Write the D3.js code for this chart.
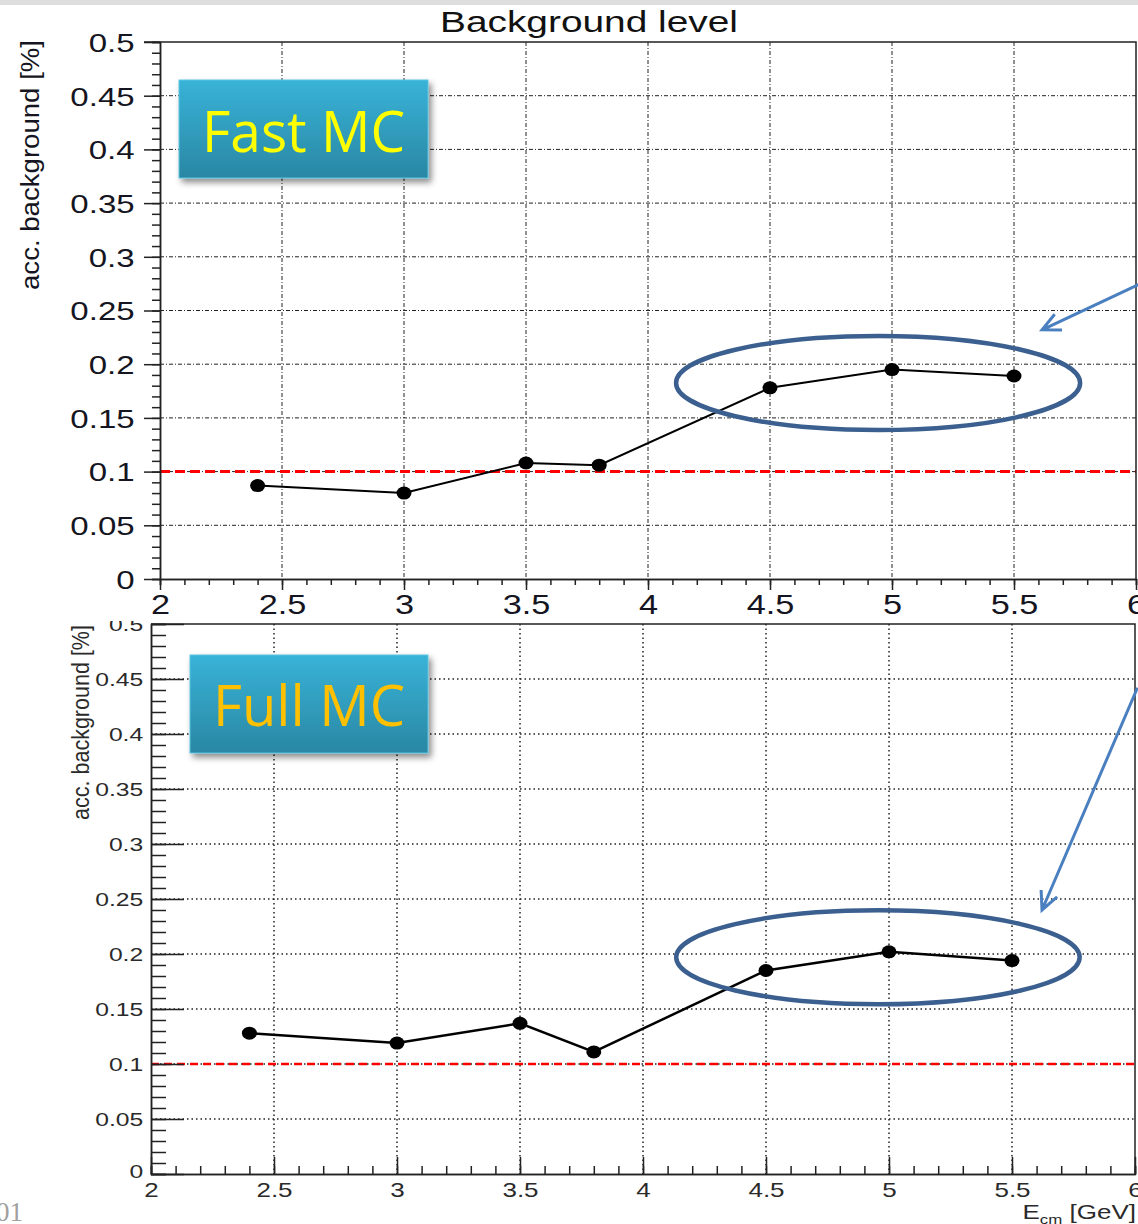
<!DOCTYPE html>
<html>
<head>
<meta charset="utf-8">
<script src="https://cdn.jsdelivr.net/npm/d3@7"></script>
<style>
  body { margin: 0; background: #fff; }
  svg { display: block; font-family: "Liberation Sans", Arial, sans-serif; }
</style>
</head>
<body>
<div class="chart"></div>
<script>
// values
const energies = [2.4, 3, 3.5, 3.8, 4.5, 5, 5.5]
const fastMC = [0.087, 0.080, 0.108, 0.106, 0.178, 0.195, 0.189]
const fullMC = [0.128, 0.119, 0.137, 0.111, 0.185, 0.202, 0.194]
const limit = 0.1

const xTicks = [2, 2.5, 3, 3.5, 4, 4.5, 5, 5.5, 6]
const xTickLabels = ["2", "2.5", "3", "3.5", "4", "4.5", "5", "5.5", "6"]
const yTicks = [0, 0.05, 0.1, 0.15, 0.2, 0.25, 0.3, 0.35, 0.4, 0.45, 0.5]
const yTickLabels = ["0", "0.05", "0.1", "0.15", "0.2", "0.25", "0.3", "0.35", "0.4", "0.45", "0.5"]
const xMinor = d3.range(20, 61).map(d => d / 10)
const yMinor = d3.range(0, 51).map(d => d / 100)

const panelNames = ["Fast MC", "Full MC"]
// annotation ellipses and arrows, in data units
const ringCenters = [[4.943, 0.1825], [4.955, 0.197]]
const ringRadii = [[0.828, 0.0438], [0.82, 0.0427]]
const arrowFrom = [[6.01, 0.274], [6.01, 0.442]]
const arrowTo = [[5.615, 0.232], [5.622, 0.24]]

const width = 1138
const height = 1224

const svg = d3.select(".chart")
  .append("svg")
  .attr("width", width)
  .attr("height", height)

const defs = svg.append("defs")
const grad = defs.append("linearGradient")
  .attr("id", "boxGrad")
  .attr("x1", 0).attr("y1", 0).attr("x2", 0).attr("y2", 1)
grad.append("stop").attr("offset", "0%").attr("stop-color", "#38b3d8")
grad.append("stop").attr("offset", "100%").attr("stop-color", "#2a87a3")
defs.append("filter")
  .attr("id", "shadow")
  .attr("x", "-10%").attr("y", "-10%").attr("width", "130%").attr("height", "140%")
  .append("feDropShadow")
  .attr("dx", 3).attr("dy", 4).attr("stdDeviation", 3)
  .attr("flood-color", "#000").attr("flood-opacity", 0.45)
defs.append("clipPath")
  .attr("id", "lowerClip")
  .append("rect")
  .attr("x", 0).attr("y", 621).attr("width", width).attr("height", height - 621)

// slide edge at the top
svg.append("rect")
  .attr("x", 0).attr("y", 0)
  .attr("width", width).attr("height", 5)
  .attr("fill", "#dedede")

svg.append("text")
  .attr("x", 589)
  .attr("y", 32)
  .attr("text-anchor", "middle")
  .attr("fill", "#111")
  .style("font-size", "29px")
  .attr("textLength", 298)
  .attr("lengthAdjust", "spacingAndGlyphs")
  .text("Background level")

svg.append("text")
  .attr("x", -4)
  .attr("y", 1221)
  .attr("fill", "#a0a0a0")
  .style("font-family", "'Liberation Serif', serif")
  .style("font-size", "27px")
  .text("01")

const panels = [
  {
    values: fastMC,
    name: panelNames[0],
    nameColor: "#ffff00",
    left: 160, top: 42, width: 976, height: 537,
    box: { x: 19, y: 38, w: 249, h: 98, textY: 110, textW: 203 },
    ticksInside: false,
    majorY: 16, minorY: 8, majorX: 11, minorX: 6,
    labelSize: 26, labelScale: 1.27, labelColor: "#151522",
    yLabelX: -20, xLabelY: 25,
    grid: "4,2,1,2", gridWidth: 1,
    lineWidth: 2, dot: [7.5, 6.5],
    axisTitle: { x: 30, top: 40, size: 26, len: 250 },
  },
  {
    values: fullMC,
    name: panelNames[1],
    nameColor: "#ffc000",
    left: 151, top: 624, width: 984, height: 550,
    box: { x: 39, y: 31, w: 238, h: 98, textY: 102, textW: 192 },
    ticksInside: true,
    majorY: 33, minorY: 15, majorX: 17, minorX: 8,
    labelSize: 19, labelScale: 1.3, labelColor: "#2a2a2a",
    yLabelX: -6, xLabelY: 16,
    grid: "1.5,3", gridWidth: 1.5,
    lineWidth: 2.5, dot: [7.5, 6.5],
    axisTitle: { x: 81, top: 625, size: 23, len: 195 },
  },
]

panels.forEach((p, i) => {
  const outer = svg.append("g")
  if (i === 1) outer.attr("clip-path", "url(#lowerClip)")

  const bounds = outer.append("g")
    .attr("transform", `translate(${p.left}, ${p.top})`)

  const xScale = d3.scaleLinear()
    .domain([2, 6])
    .range([0, p.width])
  const yScale = d3.scaleLinear()
    .domain([0, 0.5])
    .range([p.height, 0])

  // grid
  bounds.append("g").selectAll("line")
    .data(xTicks.slice(1, -1))
    .enter().append("line")
    .attr("x1", d => xScale(d)).attr("x2", d => xScale(d))
    .attr("y1", 0).attr("y2", p.height)
    .attr("stroke", "#222")
    .attr("stroke-width", p.gridWidth)
    .attr("stroke-dasharray", p.grid)
  bounds.append("g").selectAll("line")
    .data(yTicks.slice(1, -1))
    .enter().append("line")
    .attr("x1", 0).attr("x2", p.width)
    .attr("y1", d => yScale(d)).attr("y2", d => yScale(d))
    .attr("stroke", "#222")
    .attr("stroke-width", p.gridWidth)
    .attr("stroke-dasharray", p.grid)

  // 0.1 % limit
  bounds.append("line")
    .attr("x1", 0).attr("x2", p.width)
    .attr("y1", yScale(limit)).attr("y2", yScale(limit))
    .attr("stroke", "#ff0000")
    .attr("stroke-width", i === 0 ? 3 : 2.5)
    .attr("stroke-dasharray", i === 0 ? "10,5" : "8,5")

  // frame top/right
  bounds.append("path")
    .attr("d", `M${i === 0 ? -16 : 0},0H${p.width}V${p.height}`)
    .attr("fill", "none")
    .attr("stroke", "#222")
    .attr("stroke-width", 1.5)

  // axes
  const dir = p.ticksInside ? -1 : 1
  const yMinorAxis = d3.axisLeft(yScale)
    .tickValues(yMinor)
    .tickSize(dir * p.minorY)
    .tickFormat("")
  const yAxisGen = d3.axisLeft(yScale)
    .tickValues(yTicks)
    .tickSizeInner(dir * p.majorY)
    .tickSizeOuter(0)
    .tickFormat((d, j) => yTickLabels[j])
  const xMinorAxis = d3.axisBottom(xScale)
    .tickValues(xMinor)
    .tickSize(dir * p.minorX)
    .tickFormat("")
  const xAxisGen = d3.axisBottom(xScale)
    .tickValues(xTicks)
    .tickSizeInner(dir * p.majorX)
    .tickSizeOuter(0)
    .tickFormat((d, j) => xTickLabels[j])

  bounds.append("g").call(yMinorAxis)
  const yAxis = bounds.append("g").call(yAxisGen)
  const xAxisG = bounds.append("g")
    .attr("transform", `translate(0, ${p.height})`)
  xAxisG.append("g").call(xMinorAxis)
  const xAxis = xAxisG.append("g").call(xAxisGen)

  bounds.selectAll(".domain").attr("stroke", "#222").attr("stroke-width", 1.5)
  bounds.selectAll(".tick line").attr("stroke", "#222").attr("stroke-width", 1.5)

  yAxis.selectAll("text")
    .attr("x", p.yLabelX)
    .attr("dy", "0.36em")
    .attr("fill", p.labelColor)
    .style("font-size", p.labelSize + "px")
    .attr("transform", `scale(${p.labelScale},1)`)
  xAxis.selectAll("text")
    .attr("y", p.xLabelY)
    .attr("dy", "0.36em")
    .attr("fill", p.labelColor)
    .style("font-size", p.labelSize + 1 + "px")
    .attr("transform", `scale(${p.labelScale},1)`)
  if (i === 1) {
    // ROOT lifts the origin label
    yAxis.selectAll(".tick").filter(d => d === 0).select("text")
      .attr("y", -3)
  }

  // axis title
  svg.append("text")
    .attr("transform", `translate(${p.axisTitle.x}, ${p.axisTitle.top}) rotate(-90)`)
    .attr("text-anchor", "end")
    .attr("dy", "0.35em")
    .attr("fill", p.labelColor)
    .style("font-size", p.axisTitle.size + "px")
    .attr("textLength", p.axisTitle.len)
    .attr("lengthAdjust", "spacingAndGlyphs")
    .text("acc. background [%]")

  // data
  const points = energies.map((e, j) => ({ x: e, y: p.values[j] }))
  const lineGenerator = d3.line()
    .x(d => xScale(d.x))
    .y(d => yScale(d.y))
  bounds.append("path")
    .attr("d", lineGenerator(points))
    .attr("fill", "none")
    .attr("stroke", "#000")
    .attr("stroke-width", p.lineWidth)
  bounds.selectAll(".dot")
    .data(points)
    .enter().append("ellipse")
    .attr("class", "dot")
    .attr("cx", d => xScale(d.x))
    .attr("cy", d => yScale(d.y))
    .attr("rx", p.dot[0])
    .attr("ry", p.dot[1])
    .attr("fill", "#000")

  // ring around the high points
  bounds.append("ellipse")
    .attr("cx", xScale(ringCenters[i][0]))
    .attr("cy", yScale(ringCenters[i][1]))
    .attr("rx", xScale(ringRadii[i][0]) - xScale(0))
    .attr("ry", yScale(0) - yScale(ringRadii[i][1]))
    .attr("fill", "none")
    .attr("stroke", "#3b5f8f")
    .attr("stroke-width", 4.5)

  // arrow
  const ax0 = xScale(arrowFrom[i][0]), ay0 = yScale(arrowFrom[i][1])
  const ax1 = xScale(arrowTo[i][0]), ay1 = yScale(arrowTo[i][1])
  const ang = Math.atan2(ay1 - ay0, ax1 - ax0)
  const head = 20
  const wing = 0.45
  outer.append("path")
    .attr("transform", `translate(${p.left}, ${p.top})`)
    .attr("d", `M${ax0},${ay0}L${ax1},${ay1}` +
      `M${ax1 - head * Math.cos(ang - wing)},${ay1 - head * Math.sin(ang - wing)}` +
      `L${ax1},${ay1}` +
      `L${ax1 - head * Math.cos(ang + wing)},${ay1 - head * Math.sin(ang + wing)}`)
    .attr("fill", "none")
    .attr("stroke", "#4a7fc0")
    .attr("stroke-width", 3)
    .attr("stroke-linejoin", "miter")

  // label box
  const box = bounds.append("g")
    .attr("transform", `translate(${p.box.x}, ${p.box.y})`)
  box.append("rect")
    .attr("width", p.box.w)
    .attr("height", p.box.h)
    .attr("fill", "url(#boxGrad)")
    .attr("stroke", "#5cc3e0")
    .attr("stroke-width", 1)
    .attr("filter", "url(#shadow)")
  box.append("text")
    .attr("x", p.box.w / 2)
    .attr("y", p.box.textY - p.box.y)
    .attr("text-anchor", "middle")
    .attr("fill", p.nameColor)
    .style("font-family", "'Open Sans', 'Noto Sans', sans-serif")
    .style("font-size", "56px")
    .attr("textLength", p.box.textW)
    .attr("lengthAdjust", "spacingAndGlyphs")
    .text(p.name)
})

// x axis title under the lower panel
const eLabel = svg.append("text")
  .attr("transform", "translate(1136, 1219) scale(1.3,1)")
  .attr("text-anchor", "end")
  .attr("fill", "#2a2a2a")
  .style("font-size", "20px")
eLabel.append("tspan").text("E")
eLabel.append("tspan").attr("dy", 5).style("font-size", "13px").text("cm")
eLabel.append("tspan").attr("dy", -5).text(" [GeV]")
</script>
</body>
</html>
